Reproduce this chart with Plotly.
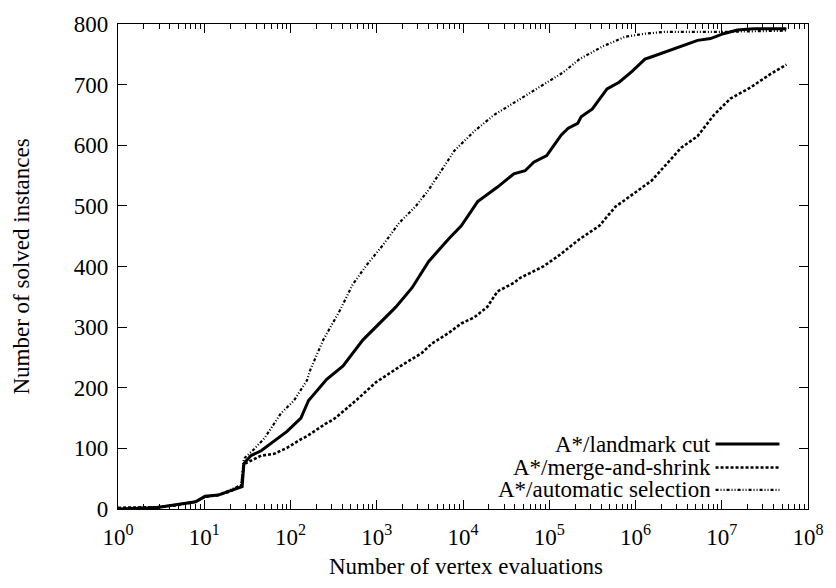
import plotly.graph_objects as go

# Cumulative number of solved instances vs. vertex evaluations
landmark_x = [1, 2.75, 4.68, 7.94, 10.2, 14.5, 19.1, 27.5, 28.8, 34.7, 45.7, 64.6, 91.2,
              132, 162, 263, 407, 692, 1072, 1660, 2570, 3981, 6761, 9550, 14790, 25120,
              38900, 52480, 66070, 93330, 112200, 138000, 166000, 213800, 234400, 316200,
              467700, 645700, 912000, 1288000, 1549000, 2188000, 3715000, 5248000,
              7413000, 10470000, 15140000, 23440000, 56230000]
landmark_y = [0, 2, 7, 12, 21, 23, 29, 37, 75, 88, 96, 112, 128,
              150, 179, 214, 236, 279, 306, 333, 365, 408, 445, 467, 507, 531,
              553, 558, 572, 583, 599, 617, 628, 636, 647, 660,
              693, 704, 722, 742, 746, 754, 765, 773,
              776, 784, 790, 792, 792]

mas_x = [1, 2.75, 4.68, 7.94, 10.2, 14.5, 19.1, 26.9, 28.8, 34.7, 45.7, 64.6, 91.2,
         132, 155, 251, 316, 417, 575, 977, 1995, 3311, 4365, 6761, 9550, 13490, 19050,
         25120, 38900, 45710, 85110, 131800, 223900, 380200, 588800, 758600, 1549000,
         3388000, 5248000, 8128000, 12590000, 21380000, 36310000, 56230000]
mas_y = [2, 3, 6, 12, 20, 23, 28, 38, 74, 80, 88, 91, 101,
         115, 120, 140, 148, 162, 179, 209, 238, 257, 273, 290, 306, 316, 333,
         359, 373, 381, 400, 419, 445, 467, 499, 510, 542,
         596, 615, 650, 677, 695, 717, 733]

auto_x = [1, 2.75, 4.68, 7.94, 10.2, 14.5, 19.1, 26.9, 28.8, 38.0, 50.1, 77.6, 110,
          155, 170, 240, 372, 525, 759, 1175, 1820, 2818, 3981, 6761, 7943, 13490,
          22910, 46770, 93330, 144500, 223900, 416900, 758600, 1288000, 2188000,
          10000000, 56230000]
auto_y = [1, 3, 7, 12, 20, 23, 30, 40, 83, 99, 117, 158, 179,
          212, 230, 279, 327, 370, 402, 435, 472, 499, 526, 575, 591, 623,
          650, 677, 704, 720, 742, 763, 779, 784, 787,
          787, 789]

series_names = ["A*/landmark cut", "A*/merge-and-shrink", "A*/automatic selection"]
x_tick_vals = [1, 10, 100, 1e3, 1e4, 1e5, 1e6, 1e7, 1e8]
x_tick_text = ["10<sup>%d</sup>" % i for i in range(9)]
y_tick_vals = [0, 100, 200, 300, 400, 500, 600, 700, 800]

FONT = "Liberation Serif"
FS = 23
styles = [
    dict(width=3, dash="solid"),
    dict(width=2.6, dash="3px,2px"),
    dict(width=2.2, dash="3px,2px,1px,2px,1px,2px"),
]

fig = go.Figure()
for xs, ys, name, st in zip([landmark_x, mas_x, auto_x], [landmark_y, mas_y, auto_y],
                            series_names, styles):
    fig.add_trace(go.Scatter(x=xs, y=ys, mode="lines", name=name, showlegend=False,
                             line=dict(color="black", width=st["width"], dash=st["dash"])))

# gnuplot-style key: right-aligned text with line sample on the right
key_rows = [0.134, 0.0857, 0.0393]
for name, st, yr in zip(series_names, styles, key_rows):
    fig.add_annotation(x=0.862, y=yr, xref="paper", yref="paper", text=name,
                       showarrow=False, xanchor="right", yanchor="middle",
                       font=dict(family=FONT, size=FS, color="black"))
    fig.add_shape(type="line", xref="paper", yref="paper", x0=0.866, x1=0.9586,
                  y0=yr, y1=yr, line=dict(color="black", width=st["width"], dash=st["dash"]))

fig.add_annotation(x=0.504, y=-0.118, xref="paper", yref="paper",
                   text="Number of vertex evaluations", showarrow=False,
                   xanchor="center", yanchor="middle",
                   font=dict(family=FONT, size=FS, color="black"))
fig.add_annotation(x=-0.1398, y=0.499, xref="paper", yref="paper",
                   text="Number of solved instances", showarrow=False, textangle=-90,
                   xanchor="center", yanchor="middle",
                   font=dict(family=FONT, size=FS, color="black"))

axis_common = dict(showgrid=False, zeroline=False, showline=True, linecolor="black",
                   linewidth=1.3, mirror="allticks", ticks="inside", tickcolor="black",
                   tickwidth=1, tickfont=dict(family=FONT, size=FS, color="black"))

fig.update_xaxes(type="log", range=[0, 8], tickvals=x_tick_vals, ticktext=x_tick_text,
                 ticklen=9, ticklabelstandoff=7,
                 minor=dict(ticks="inside", ticklen=5, tickcolor="black",
                            dtick="D1", showgrid=False),
                 **axis_common)
fig.update_yaxes(range=[0, 800], tickvals=y_tick_vals, ticklen=9, ticklabelstandoff=4,
                 **axis_common)

fig.update_layout(width=836, height=588, plot_bgcolor="white", paper_bgcolor="white",
                  margin=dict(l=118, r=17, t=14, b=79),
                  font=dict(family=FONT, size=FS, color="black"))

fig.write_html("out.html")
